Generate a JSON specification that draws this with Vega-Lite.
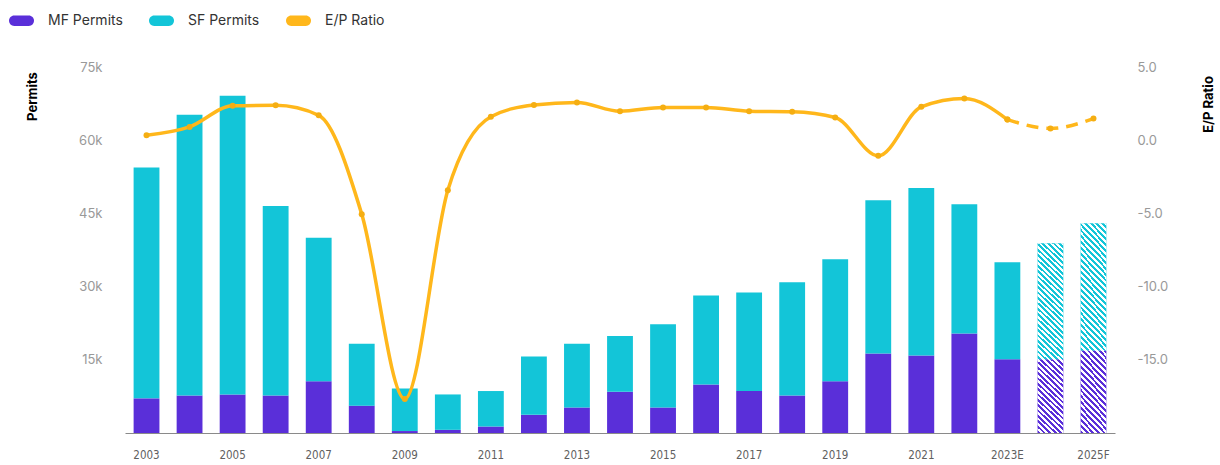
{
  "$schema": "https://vega.github.io/schema/vega-lite/v6.json",
  "autosize": "none",
  "width": 990,
  "height": 366,
  "padding": {"left": 125, "top": 67, "right": 105, "bottom": 32},
  "background": "white",
  "config": {"view": {"stroke": null}, "font": "Inter"},
  "data": {"values": [
    {"year": "2003", "mf": 7100, "sf": 47300, "ep": 0.34, "forecast": "no"},
    {"year": "2004", "mf": 7700, "sf": 57500, "ep": 0.91, "forecast": "no"},
    {"year": "2005", "mf": 7900, "sf": 61200, "ep": 2.35, "forecast": "no"},
    {"year": "2006", "mf": 7700, "sf": 38800, "ep": 2.38, "forecast": "no"},
    {"year": "2007", "mf": 10600, "sf": 29400, "ep": 1.7, "forecast": "no"},
    {"year": "2008", "mf": 5600, "sf": 12700, "ep": -5.05, "forecast": "no"},
    {"year": "2009", "mf": 400, "sf": 8700, "ep": -17.67, "forecast": "no"},
    {"year": "2010", "mf": 650, "sf": 7250, "ep": -3.42, "forecast": "no"},
    {"year": "2011", "mf": 1330, "sf": 7270, "ep": 1.6, "forecast": "no"},
    {"year": "2012", "mf": 3730, "sf": 11970, "ep": 2.4, "forecast": "no"},
    {"year": "2013", "mf": 5230, "sf": 13070, "ep": 2.58, "forecast": "no"},
    {"year": "2014", "mf": 8450, "sf": 11450, "ep": 1.98, "forecast": "no"},
    {"year": "2015", "mf": 5230, "sf": 17070, "ep": 2.24, "forecast": "no"},
    {"year": "2016", "mf": 9950, "sf": 18250, "ep": 2.24, "forecast": "no"},
    {"year": "2017", "mf": 8600, "sf": 20200, "ep": 1.98, "forecast": "no"},
    {"year": "2018", "mf": 7700, "sf": 23200, "ep": 1.94, "forecast": "no"},
    {"year": "2019", "mf": 10600, "sf": 25000, "ep": 1.55, "forecast": "no"},
    {"year": "2020", "mf": 16300, "sf": 31400, "ep": -1.07, "forecast": "no"},
    {"year": "2021", "mf": 15900, "sf": 34300, "ep": 2.28, "forecast": "no"},
    {"year": "2022", "mf": 20400, "sf": 26500, "ep": 2.85, "forecast": "no"},
    {"year": "2023E", "mf": 15100, "sf": 19900, "ep": 1.41, "forecast": "no"},
    {"year": "2024F", "mf": 15100, "sf": 23800, "ep": 0.8, "forecast": "yes"},
    {"year": "2025F", "mf": 16900, "sf": 26100, "ep": 1.48, "forecast": "yes"}
  ]},
  "encoding": {
    "x": {
      "field": "year", "type": "nominal", "sort": null,
      "scale": {"paddingInner": 0.4, "paddingOuter": 0.2},
      "axis": {
        "title": null, "labelAngle": 0, "ticks": false,
        "values": ["2003", "2005", "2007", "2009", "2011", "2013", "2015", "2017", "2019", "2021", "2023E", "2025F"],
        "domainColor": "#8a8a8a", "domainWidth": 1,
        "labelFont": "'DejaVu Sans Condensed', 'Liberation Sans', sans-serif", "labelFontSize": 11.5, "labelColor": "#5f5f5f", "labelPadding": 16
      }
    }
  },
  "layer": [
    {
      "transform": [{"fold": ["mf", "sf"], "as": ["series", "permits"]}],
      "layer": [
        {
          "mark": {"type": "bar"},
          "encoding": {
            "y": {
              "field": "permits", "type": "quantitative", "stack": "zero",
              "scale": {"domain": [0, 75000], "nice": false},
              "axis": {
                "orient": "left", "title": "Permits", "values": [15000, 30000, 45000, 60000, 75000], "format": "~s",
                "grid": false, "ticks": false, "domain": false,
                "labelColor": "#999999", "labelFont": "Inter", "labelFontSize": 13, "labelPadding": 23,
                "titleAngle": 270, "titleX": -93, "titleY": 29, "titleAlign": "center", "titleBaseline": "middle",
                "titleFont": "Inter", "titleFontSize": 13, "titleFontWeight": "bold", "titleColor": "#000000"
              }
            },
            "order": {"field": "series", "sort": "ascending"},
            "color": {
              "field": "series", "type": "nominal",
              "scale": {"domain": ["mf", "sf", "ep"], "range": ["#5A2FD9", "#13C5D8", "#FFB71B"]},
              "legend": {
                "title": null, "orient": "none", "legendX": -116, "legendY": -59, "direction": "horizontal",
                "symbolType": "M-0.6,-0.42L0.6,-0.42A0.42,0.42 0 0 1 0.6,0.42L-0.6,0.42A0.42,0.42 0 0 1 -0.6,-0.42Z",
                "symbolSize": 600, "symbolStrokeWidth": 0, "symbolOpacity": 1,
                "labelFont": "Inter", "labelFontSize": 14, "labelColor": "#333333", "labelOffset": 14,
                "columnPadding": 26,
                "labelExpr": "datum.label == 'mf' ? 'MF Permits' : datum.label == 'sf' ? 'SF Permits' : 'E/P Ratio'"
              }
            }
          }
        },
        {
          "transform": [{"filter": "datum.forecast == 'yes'"}],
          "mark": {
            "type": "bar",
            "fill": {
              "gradient": "linear", "x1": 1, "y1": 0, "x2": 0.8555, "y2": 1.111,
              "stops": [
                {"offset": 0, "color": "#ffffff"}, {"offset": 0.0125, "color": "#ffffff"}, {"offset": 0.0125, "color": "rgba(255,255,255,0)"}, {"offset": 0.025, "color": "rgba(255,255,255,0)"},
                {"offset": 0.025, "color": "#ffffff"}, {"offset": 0.0375, "color": "#ffffff"}, {"offset": 0.0375, "color": "rgba(255,255,255,0)"}, {"offset": 0.05, "color": "rgba(255,255,255,0)"},
                {"offset": 0.05, "color": "#ffffff"}, {"offset": 0.0625, "color": "#ffffff"}, {"offset": 0.0625, "color": "rgba(255,255,255,0)"}, {"offset": 0.075, "color": "rgba(255,255,255,0)"},
                {"offset": 0.075, "color": "#ffffff"}, {"offset": 0.0875, "color": "#ffffff"}, {"offset": 0.0875, "color": "rgba(255,255,255,0)"}, {"offset": 0.1, "color": "rgba(255,255,255,0)"},
                {"offset": 0.1, "color": "#ffffff"}, {"offset": 0.1125, "color": "#ffffff"}, {"offset": 0.1125, "color": "rgba(255,255,255,0)"}, {"offset": 0.125, "color": "rgba(255,255,255,0)"},
                {"offset": 0.125, "color": "#ffffff"}, {"offset": 0.1375, "color": "#ffffff"}, {"offset": 0.1375, "color": "rgba(255,255,255,0)"}, {"offset": 0.15, "color": "rgba(255,255,255,0)"},
                {"offset": 0.15, "color": "#ffffff"}, {"offset": 0.1625, "color": "#ffffff"}, {"offset": 0.1625, "color": "rgba(255,255,255,0)"}, {"offset": 0.175, "color": "rgba(255,255,255,0)"},
                {"offset": 0.175, "color": "#ffffff"}, {"offset": 0.1875, "color": "#ffffff"}, {"offset": 0.1875, "color": "rgba(255,255,255,0)"}, {"offset": 0.2, "color": "rgba(255,255,255,0)"},
                {"offset": 0.2, "color": "#ffffff"}, {"offset": 0.2125, "color": "#ffffff"}, {"offset": 0.2125, "color": "rgba(255,255,255,0)"}, {"offset": 0.225, "color": "rgba(255,255,255,0)"},
                {"offset": 0.225, "color": "#ffffff"}, {"offset": 0.2375, "color": "#ffffff"}, {"offset": 0.2375, "color": "rgba(255,255,255,0)"}, {"offset": 0.25, "color": "rgba(255,255,255,0)"},
                {"offset": 0.25, "color": "#ffffff"}, {"offset": 0.2625, "color": "#ffffff"}, {"offset": 0.2625, "color": "rgba(255,255,255,0)"}, {"offset": 0.275, "color": "rgba(255,255,255,0)"},
                {"offset": 0.275, "color": "#ffffff"}, {"offset": 0.2875, "color": "#ffffff"}, {"offset": 0.2875, "color": "rgba(255,255,255,0)"}, {"offset": 0.3, "color": "rgba(255,255,255,0)"},
                {"offset": 0.3, "color": "#ffffff"}, {"offset": 0.3125, "color": "#ffffff"}, {"offset": 0.3125, "color": "rgba(255,255,255,0)"}, {"offset": 0.325, "color": "rgba(255,255,255,0)"},
                {"offset": 0.325, "color": "#ffffff"}, {"offset": 0.3375, "color": "#ffffff"}, {"offset": 0.3375, "color": "rgba(255,255,255,0)"}, {"offset": 0.35, "color": "rgba(255,255,255,0)"},
                {"offset": 0.35, "color": "#ffffff"}, {"offset": 0.3625, "color": "#ffffff"}, {"offset": 0.3625, "color": "rgba(255,255,255,0)"}, {"offset": 0.375, "color": "rgba(255,255,255,0)"},
                {"offset": 0.375, "color": "#ffffff"}, {"offset": 0.3875, "color": "#ffffff"}, {"offset": 0.3875, "color": "rgba(255,255,255,0)"}, {"offset": 0.4, "color": "rgba(255,255,255,0)"},
                {"offset": 0.4, "color": "#ffffff"}, {"offset": 0.4125, "color": "#ffffff"}, {"offset": 0.4125, "color": "rgba(255,255,255,0)"}, {"offset": 0.425, "color": "rgba(255,255,255,0)"},
                {"offset": 0.425, "color": "#ffffff"}, {"offset": 0.4375, "color": "#ffffff"}, {"offset": 0.4375, "color": "rgba(255,255,255,0)"}, {"offset": 0.45, "color": "rgba(255,255,255,0)"},
                {"offset": 0.45, "color": "#ffffff"}, {"offset": 0.4625, "color": "#ffffff"}, {"offset": 0.4625, "color": "rgba(255,255,255,0)"}, {"offset": 0.475, "color": "rgba(255,255,255,0)"},
                {"offset": 0.475, "color": "#ffffff"}, {"offset": 0.4875, "color": "#ffffff"}, {"offset": 0.4875, "color": "rgba(255,255,255,0)"}, {"offset": 0.5, "color": "rgba(255,255,255,0)"},
                {"offset": 0.5, "color": "#ffffff"}, {"offset": 0.5125, "color": "#ffffff"}, {"offset": 0.5125, "color": "rgba(255,255,255,0)"}, {"offset": 0.525, "color": "rgba(255,255,255,0)"},
                {"offset": 0.525, "color": "#ffffff"}, {"offset": 0.5375, "color": "#ffffff"}, {"offset": 0.5375, "color": "rgba(255,255,255,0)"}, {"offset": 0.55, "color": "rgba(255,255,255,0)"},
                {"offset": 0.55, "color": "#ffffff"}, {"offset": 0.5625, "color": "#ffffff"}, {"offset": 0.5625, "color": "rgba(255,255,255,0)"}, {"offset": 0.575, "color": "rgba(255,255,255,0)"},
                {"offset": 0.575, "color": "#ffffff"}, {"offset": 0.5875, "color": "#ffffff"}, {"offset": 0.5875, "color": "rgba(255,255,255,0)"}, {"offset": 0.6, "color": "rgba(255,255,255,0)"},
                {"offset": 0.6, "color": "#ffffff"}, {"offset": 0.6125, "color": "#ffffff"}, {"offset": 0.6125, "color": "rgba(255,255,255,0)"}, {"offset": 0.625, "color": "rgba(255,255,255,0)"},
                {"offset": 0.625, "color": "#ffffff"}, {"offset": 0.6375, "color": "#ffffff"}, {"offset": 0.6375, "color": "rgba(255,255,255,0)"}, {"offset": 0.65, "color": "rgba(255,255,255,0)"},
                {"offset": 0.65, "color": "#ffffff"}, {"offset": 0.6625, "color": "#ffffff"}, {"offset": 0.6625, "color": "rgba(255,255,255,0)"}, {"offset": 0.675, "color": "rgba(255,255,255,0)"},
                {"offset": 0.675, "color": "#ffffff"}, {"offset": 0.6875, "color": "#ffffff"}, {"offset": 0.6875, "color": "rgba(255,255,255,0)"}, {"offset": 0.7, "color": "rgba(255,255,255,0)"},
                {"offset": 0.7, "color": "#ffffff"}, {"offset": 0.7125, "color": "#ffffff"}, {"offset": 0.7125, "color": "rgba(255,255,255,0)"}, {"offset": 0.725, "color": "rgba(255,255,255,0)"},
                {"offset": 0.725, "color": "#ffffff"}, {"offset": 0.7375, "color": "#ffffff"}, {"offset": 0.7375, "color": "rgba(255,255,255,0)"}, {"offset": 0.75, "color": "rgba(255,255,255,0)"},
                {"offset": 0.75, "color": "#ffffff"}, {"offset": 0.7625, "color": "#ffffff"}, {"offset": 0.7625, "color": "rgba(255,255,255,0)"}, {"offset": 0.775, "color": "rgba(255,255,255,0)"},
                {"offset": 0.775, "color": "#ffffff"}, {"offset": 0.7875, "color": "#ffffff"}, {"offset": 0.7875, "color": "rgba(255,255,255,0)"}, {"offset": 0.8, "color": "rgba(255,255,255,0)"},
                {"offset": 0.8, "color": "#ffffff"}, {"offset": 0.8125, "color": "#ffffff"}, {"offset": 0.8125, "color": "rgba(255,255,255,0)"}, {"offset": 0.825, "color": "rgba(255,255,255,0)"},
                {"offset": 0.825, "color": "#ffffff"}, {"offset": 0.8375, "color": "#ffffff"}, {"offset": 0.8375, "color": "rgba(255,255,255,0)"}, {"offset": 0.85, "color": "rgba(255,255,255,0)"},
                {"offset": 0.85, "color": "#ffffff"}, {"offset": 0.8625, "color": "#ffffff"}, {"offset": 0.8625, "color": "rgba(255,255,255,0)"}, {"offset": 0.875, "color": "rgba(255,255,255,0)"},
                {"offset": 0.875, "color": "#ffffff"}, {"offset": 0.8875, "color": "#ffffff"}, {"offset": 0.8875, "color": "rgba(255,255,255,0)"}, {"offset": 0.9, "color": "rgba(255,255,255,0)"},
                {"offset": 0.9, "color": "#ffffff"}, {"offset": 0.9125, "color": "#ffffff"}, {"offset": 0.9125, "color": "rgba(255,255,255,0)"}, {"offset": 0.925, "color": "rgba(255,255,255,0)"},
                {"offset": 0.925, "color": "#ffffff"}, {"offset": 0.9375, "color": "#ffffff"}, {"offset": 0.9375, "color": "rgba(255,255,255,0)"}, {"offset": 0.95, "color": "rgba(255,255,255,0)"},
                {"offset": 0.95, "color": "#ffffff"}, {"offset": 0.9625, "color": "#ffffff"}, {"offset": 0.9625, "color": "rgba(255,255,255,0)"}, {"offset": 0.975, "color": "rgba(255,255,255,0)"},
                {"offset": 0.975, "color": "#ffffff"}, {"offset": 0.9875, "color": "#ffffff"}, {"offset": 0.9875, "color": "rgba(255,255,255,0)"}, {"offset": 1, "color": "rgba(255,255,255,0)"}
              ]
            }
          },
          "encoding": {
            "y": {
              "aggregate": "sum", "field": "permits", "type": "quantitative",
              "scale": {"domain": [0, 75000], "nice": false},
              "axis": {
                "orient": "left", "title": "Permits", "values": [15000, 30000, 45000, 60000, 75000], "format": "~s",
                "grid": false, "ticks": false, "domain": false,
                "labelColor": "#999999", "labelFont": "Inter", "labelFontSize": 13, "labelPadding": 23,
                "titleAngle": 270, "titleX": -93, "titleY": 29, "titleAlign": "center", "titleBaseline": "middle",
                "titleFont": "Inter", "titleFontSize": 13, "titleFontWeight": "bold", "titleColor": "#000000"
              }
            }
          }
        }
      ]
    },
    {
      "encoding": {
        "y": {
          "field": "ep", "type": "quantitative",
          "scale": {"domain": [-20, 5], "nice": false, "zero": false},
          "axis": {
            "orient": "right", "title": "E/P Ratio", "values": [-15, -10, -5, 0, 5],
            "labelExpr": "replace(format(datum.value, '.1f'), '−', '-')",
            "grid": false, "ticks": false, "domain": false,
            "labelColor": "#999999", "labelFont": "Inter", "labelFontSize": 13, "labelPadding": 22,
            "titleAngle": 270, "titleX": 93, "titleY": 37, "titleAlign": "center", "titleBaseline": "middle",
            "titleFont": "Inter", "titleFontSize": 13, "titleFontWeight": "bold", "titleColor": "#000000"
          }
        }
      },
      "layer": [
        {
          "transform": [{"filter": "datum.year <= '2023E'"}],
          "mark": {"type": "line", "interpolate": "monotone", "color": "#FFB71B", "strokeWidth": 3.5,
                   "point": {"filled": true, "size": 36, "color": "#F5AE12"}}
        },
        {
          "transform": [{"filter": "datum.year >= '2023E'"}],
          "mark": {"type": "line", "interpolate": "monotone", "color": "#FFB71B", "strokeWidth": 3.5, "strokeDash": [12, 8],
                   "point": {"filled": true, "size": 36, "color": "#F5AE12"}}
        }
      ]
    }
  ],
  "resolve": {"scale": {"y": "independent"}}
}
